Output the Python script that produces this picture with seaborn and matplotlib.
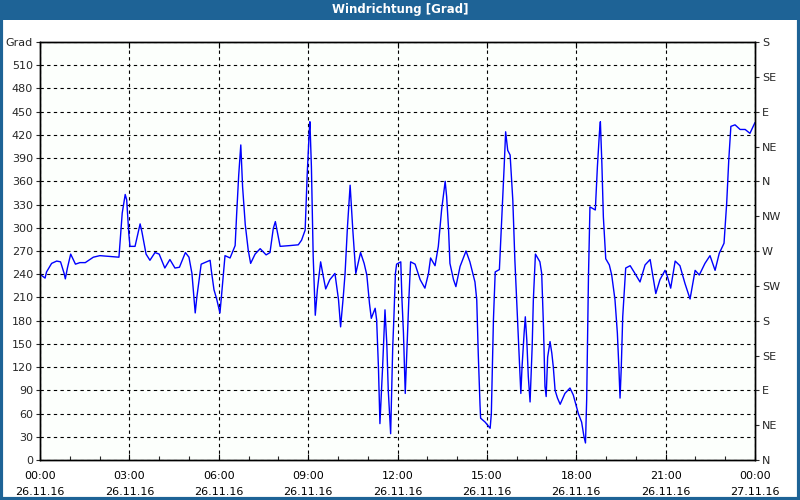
import matplotlib
matplotlib.use("Agg")
import matplotlib.pyplot as plt
import seaborn as sns
import pandas as pd
from matplotlib.patches import Rectangle
from matplotlib.ticker import MultipleLocator

# time in hours since 26.11.16 00:00
hours = [0.00, 0.17, 0.22, 0.39, 0.56, 0.69, 0.81, 0.85, 0.92, 1.03, 1.19, 1.34, 1.52, 1.79, 2.01,
         2.65, 2.76, 2.86, 2.91, 2.98, 3.02, 3.19, 3.36, 3.42, 3.56, 3.69, 3.86, 4.00, 4.19, 4.36,
         4.53, 4.68, 4.88, 5.00, 5.10, 5.21, 5.26, 5.41, 5.71, 5.75, 5.84, 5.93, 6.04, 6.09, 6.21,
         6.38, 6.55, 6.60, 6.67, 6.74, 6.80, 6.89, 6.99, 7.07, 7.22, 7.39, 7.59, 7.72, 7.83, 7.90,
         8.06, 8.39, 8.67, 8.78, 8.90, 8.97, 9.04, 9.06, 9.11, 9.17, 9.24, 9.31, 9.42, 9.51, 9.59,
         9.73, 9.90, 10.02, 10.09, 10.18, 10.24, 10.32, 10.41, 10.50, 10.60, 10.76, 10.88, 10.97,
         11.06, 11.12, 11.25, 11.30, 11.36, 11.41, 11.50, 11.58, 11.64, 11.69, 11.77, 11.84, 11.88,
         11.93, 11.97, 12.11, 12.15, 12.20, 12.26, 12.31, 12.38, 12.44, 12.59, 12.76, 12.92, 13.04,
         13.11, 13.26, 13.37, 13.48, 13.60, 13.65, 13.71, 13.76, 13.88, 13.96, 14.10, 14.30, 14.43,
         14.60, 14.66, 14.71, 14.77, 14.79, 14.94, 15.11, 15.15, 15.22, 15.28, 15.42, 15.53, 15.58,
         15.63, 15.70, 15.78, 15.87, 15.94, 16.02, 16.09, 16.14, 16.18, 16.25, 16.29, 16.34, 16.39,
         16.45, 16.52, 16.56, 16.63, 16.78, 16.84, 16.90, 16.95, 16.99, 17.04, 17.12, 17.18, 17.23,
         17.29, 17.37, 17.46, 17.62, 17.79, 17.90, 18.07, 18.18, 18.26, 18.31, 18.35, 18.41, 18.46,
         18.55, 18.64, 18.71, 18.78, 18.81, 18.86, 18.91, 18.99, 19.11, 19.19, 19.30, 19.38, 19.43,
         19.47, 19.51, 19.56, 19.66, 19.81, 19.97, 20.14, 20.31, 20.48, 20.67, 20.81, 20.98, 21.06,
         21.17, 21.32, 21.48, 21.65, 21.82, 21.99, 22.13, 22.32, 22.49, 22.66, 22.80, 22.96, 23.05,
         23.12, 23.19, 23.33, 23.50, 23.67, 23.83, 24.00]
direction = [240, 235, 243, 254, 257, 256, 241, 234, 248, 266, 253, 255, 255, 262, 264,
             262, 319, 343, 336, 293, 276, 276, 305, 295, 266, 258, 268, 266, 248, 259,
             248, 249, 268, 262, 241, 190, 209, 253, 258, 245, 220, 208, 190, 211, 264,
             261, 277, 317, 368, 407, 353, 304, 271, 254, 266, 273, 265, 268, 299, 308,
             276, 277, 278, 284, 297, 370, 426, 437, 379, 263, 187, 220, 256, 237, 221,
             233, 241, 207, 172, 211, 241, 301, 355, 297, 241, 268, 254, 239,
             202, 183, 196, 181, 120, 47, 120, 194, 151, 90, 34, 146, 185,
             241, 253, 256, 207, 164, 86, 138, 207, 256, 253, 233, 222, 241,
             261, 251, 276, 323, 360, 340, 301, 254, 233, 224, 250, 270, 256,
             230, 207, 138, 71, 54, 49, 41, 60, 181, 243, 246, 336, 379,
             424, 400, 394, 336, 258, 190, 133, 86, 120, 164, 185, 155, 108,
             75, 146, 207, 266, 256, 241, 172, 95, 82, 133, 153, 138, 120,
             90, 80, 72, 86, 93, 84, 60, 49, 30, 22, 78, 237, 327,
             325, 323, 379, 424, 437, 383, 314, 260, 252, 239, 207, 164, 120,
             80, 118, 185, 248, 251, 241, 230, 252, 259, 215, 233, 245, 237,
             222, 257, 251, 228, 208, 245, 239, 254, 264, 245, 267, 280, 332,
             388, 431, 433, 427, 427, 422, 436]

x_tick_labels = ["00:00\n26.11.16", "03:00\n26.11.16", "06:00\n26.11.16", "09:00\n26.11.16",
                 "12:00\n26.11.16", "15:00\n26.11.16", "18:00\n26.11.16", "21:00\n26.11.16",
                 "00:00\n27.11.16"]
left_tick_labels = [str(v) for v in range(0, 540, 30)] + ["Grad"]
compass_labels = ["N", "NE", "E", "SE", "S", "SW", "W", "NW", "N", "NE", "E", "SE", "S"]
title = "Windrichtung [Grad]"

df = pd.DataFrame({"hours": hours, "direction": direction})

sns.set_style("white")
plt.rcParams["font.family"] = ["DejaVu Sans"]

BLUE = "#1e6396"
fig = plt.figure(figsize=(8, 5), dpi=100, facecolor="white")
ax = fig.add_axes([0.05, 0.08, 0.89375, 0.836])
ax.set_facecolor("#fcfffc")

sns.lineplot(data=df, x="hours", y="direction", ax=ax, color="#0000ff", lw=1.0,
             sort=False, estimator=None)

ax.set_xlim(0, 24)
ax.set_ylim(0, 540)
ax.set_xlabel("")
ax.set_ylabel("")

ax.set_xticks(range(0, 25, 3))
ax.set_xticklabels(x_tick_labels, fontsize=8, linespacing=1.75)
ax.xaxis.set_minor_locator(MultipleLocator(1))
ax.set_yticks(range(0, 541, 30))
ax.set_yticklabels(left_tick_labels, fontsize=8)

ax.tick_params(axis="x", which="major", direction="in", length=4, width=0.8,
               top=True, bottom=True, pad=8, colors="black")
ax.tick_params(axis="x", which="minor", direction="in", length=3, width=0.8,
               top=False, bottom=True)
ax.tick_params(axis="y", which="major", direction="out", length=3, width=0.8, pad=2)

for s in ax.spines.values():
    s.set_color("black")
    s.set_linewidth(1.0)

ax.grid(True, which="major", color="black", linestyle=(0, (3, 3)), linewidth=0.8)

ax2 = ax.twinx()
ax2.set_ylim(0, 540)
ax2.set_yticks(range(0, 541, 45))
ax2.set_yticklabels(compass_labels, fontsize=8)
ax2.tick_params(axis="y", direction="out", length=3, width=0.8, pad=2)
ax2.grid(False)
for s in ax2.spines.values():
    s.set_color("black")
    s.set_linewidth(1.0)

# title bar and frame
fig.patches.append(Rectangle((0, 0.96), 1, 0.04, transform=fig.transFigure,
                             facecolor=BLUE, edgecolor="none", zorder=0))
fig.patches.append(Rectangle((0.001, 0.002), 0.998, 0.996, transform=fig.transFigure,
                             facecolor="none", edgecolor=BLUE, lw=3, zorder=5))
fig.text(0.5, 0.98, title, ha="center", va="center", color="white",
         fontsize=8.5, fontweight="bold")

fig.savefig("out.png", dpi=100)
